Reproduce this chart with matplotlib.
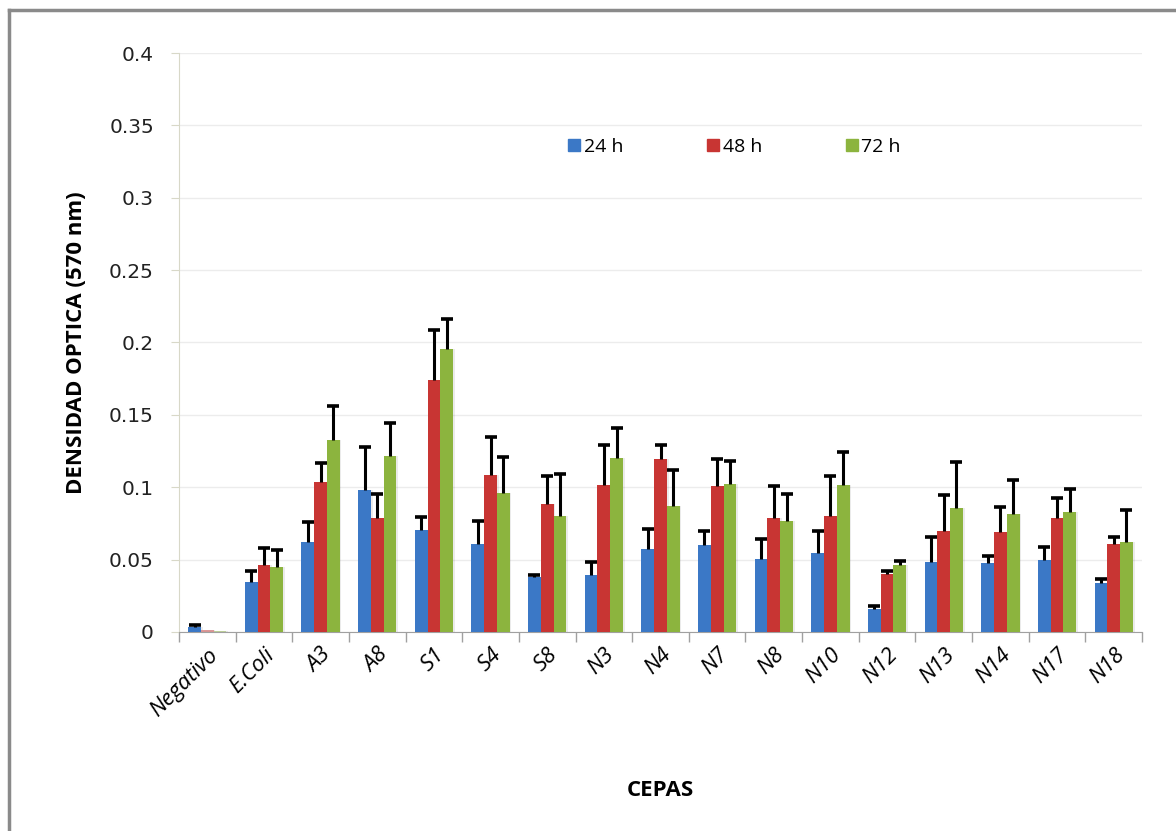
import matplotlib.pyplot as plt
import numpy as np
from matplotlib.lines import Line2D

cepas = ["Negativo", "E.Coli", "A3", "A8", "S1", "S4", "S8", "N3", "N4",
         "N7", "N8", "N10", "N12", "N13", "N14", "N17", "N18"]

# optical density means per incubation time
od_24h = [0.0032, 0.0345, 0.0622, 0.0981, 0.0705, 0.0610, 0.0382, 0.0396, 0.0573,
          0.0599, 0.0504, 0.0548, 0.0157, 0.0486, 0.0477, 0.0497, 0.0336]
od_48h = [0.0012, 0.0463, 0.1036, 0.0785, 0.1740, 0.1087, 0.0884, 0.1016, 0.1195,
          0.1009, 0.0788, 0.0804, 0.0398, 0.0700, 0.0691, 0.0788, 0.0610]
od_72h = [0.0010, 0.0449, 0.1326, 0.1218, 0.1955, 0.0962, 0.0801, 0.1202, 0.0873,
          0.1025, 0.0769, 0.1018, 0.0461, 0.0857, 0.0813, 0.0831, 0.0620]

# standard deviations (upper bars only)
sd_24h = [0.0014, 0.0075, 0.0136, 0.0297, 0.0087, 0.0155, 0.0012, 0.0085, 0.0139,
          0.0097, 0.0138, 0.0148, 0.0023, 0.0173, 0.0048, 0.0090, 0.0032]
sd_48h = [0.0000, 0.0117, 0.0134, 0.0166, 0.0346, 0.0263, 0.0194, 0.0274, 0.0099,
          0.0184, 0.0218, 0.0274, 0.0026, 0.0244, 0.0173, 0.0138, 0.0049]
sd_72h = [0.0000, 0.0118, 0.0234, 0.0228, 0.0207, 0.0247, 0.0291, 0.0209, 0.0246,
          0.0156, 0.0184, 0.0226, 0.0032, 0.0315, 0.0235, 0.0155, 0.0225]

series = [("24 h", od_24h, sd_24h, "#3b78c6"),
          ("48 h", od_48h, sd_48h, "#c83533"),
          ("72 h", od_72h, sd_72h, "#8cb43e")]

y_ticks = [0, 0.05, 0.1, 0.15, 0.2, 0.25, 0.3, 0.35, 0.4]

fig = plt.figure(figsize=(11.76, 8.31), dpi=100)
ax = fig.add_axes([0.1522, 0.2395, 0.8189, 0.6967])

x = np.arange(len(cepas))
w = 0.225
for k, (name, vals, sds, col) in enumerate(series):
    pos = x + (k - 1) * w
    vals = np.array(vals)
    sds = np.array(sds)
    bars = ax.bar(pos, vals, width=w, color=col, edgecolor="none", zorder=3)
    if k > 0:
        bars[0].set_alpha(0.45)
    # soft shadow to the right of each bar
    ax.bar(pos + 0.03, vals, width=w, color="#000000", alpha=0.08,
           edgecolor="none", zorder=2)
    # plus-only error bars: stem from bar top, cap at the end
    has_err = sds > 0
    ax.vlines(pos[has_err], vals[has_err], (vals + sds)[has_err],
              color="black", linewidth=2.2, zorder=4)
    ax.plot(pos[has_err], (vals + sds)[has_err], linestyle="none", marker="_",
            markersize=9, markeredgewidth=2.6, color="black", zorder=4)

ax.set_xlim(-0.5, len(cepas) - 0.5)
ax.set_ylim(0, 0.4)
ax.set_yticks(y_ticks)
ax.set_yticklabels([f"{v:g}" for v in y_ticks], fontsize=14.5,
                   color="#222222", family="DejaVu Sans")
ax.yaxis.grid(True, color="#ececec", linewidth=1, zorder=0)
ax.set_axisbelow(True)

ax.set_xticks(x)
ax.set_xticklabels(cepas, rotation=45, ha="right", va="top",
                   rotation_mode="anchor", fontsize=16, style="italic",
                   family="Open Sans")
ax.tick_params(axis="x", length=0, pad=9)
ax.tick_params(axis="y", length=6, color="#d8d8c8", pad=12)
ax.set_xticks(np.arange(-0.5, len(cepas), 1.0), minor=True)
ax.tick_params(axis="x", which="minor", length=7, color="#a0a0a0", width=1)

for side in ["top", "right"]:
    ax.spines[side].set_visible(False)
ax.spines["left"].set_color("#d8d8c8")
ax.spines["bottom"].set_color("#a0a0a0")

ax.set_ylabel("DENSIDAD OPTICA (570 nm)", fontsize=16, fontweight="bold",
              family="Open Sans", labelpad=16)
ax.set_xlabel("CEPAS", fontsize=16, fontweight="bold", family="Open Sans",
              labelpad=43)

handles = [Line2D([], [], marker="s", linestyle="none", markersize=8,
                  markerfacecolor=c, markeredgecolor=c) for _, _, _, c in series]
ax.legend(handles, [s[0] for s in series], ncol=3, frameon=False,
          loc="center", bbox_to_anchor=(0.576, 0.838), columnspacing=4.2,
          handletextpad=0.1, handlelength=0.8,
          prop={"family": "Open Sans", "size": 14})

# outer chart frame
fig.add_artist(Line2D([9 / 1176, 9 / 1176], [0, 1 - 10 / 831],
                      transform=fig.transFigure, color="#8a8a8a", linewidth=2.5))
fig.add_artist(Line2D([9 / 1176, 1], [1 - 10 / 831, 1 - 10 / 831],
                      transform=fig.transFigure, color="#8a8a8a", linewidth=2.5))

fig.savefig("out.png", dpi=100)
